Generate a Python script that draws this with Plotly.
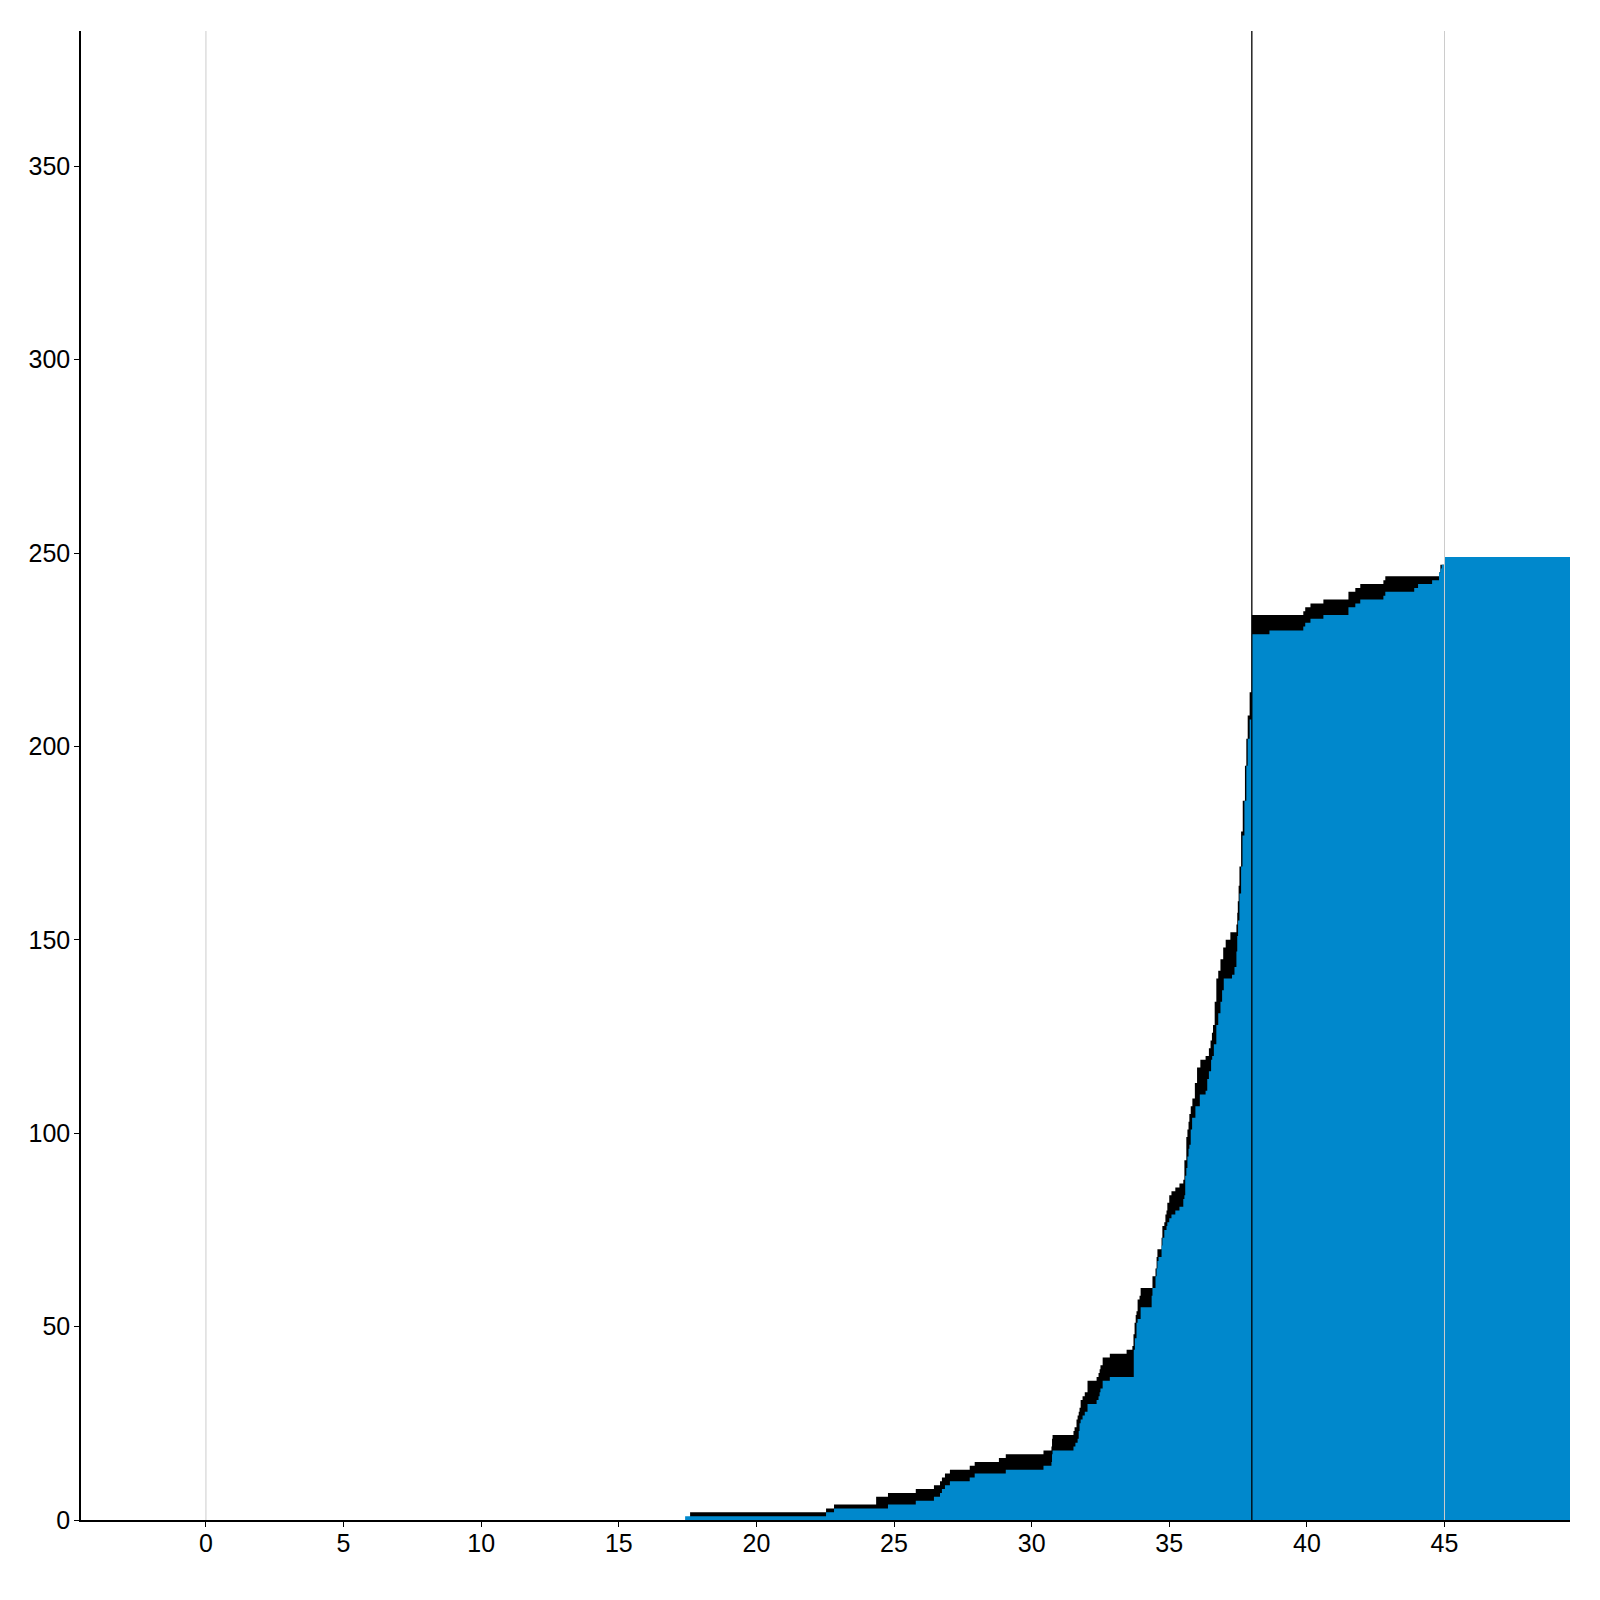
import plotly.graph_objects as go

# Lower (blue) step series: step start positions and values
blue_x = [17.41, 22.53, 22.82, 24.78, 25.79, 26.45, 26.67, 26.74, 26.85, 27.03,
          27.75, 27.93, 29.06, 30.43, 30.72, 30.74, 30.76, 31.52, 31.59, 31.67,
          31.71, 31.74, 31.78, 31.85, 31.93, 32.03, 32.36, 32.43, 32.47, 32.50,
          32.58, 32.84, 33.71, 33.75, 33.81, 33.85, 33.96, 34.36, 34.39, 34.50,
          34.54, 34.57, 34.61, 34.72, 34.75, 34.82, 34.90, 34.93, 35.00, 35.08,
          35.22, 35.37, 35.51, 35.55, 35.58, 35.62, 35.66, 35.70, 35.73, 35.78,
          35.83, 35.95, 36.11, 36.32, 36.38, 36.44, 36.52, 36.56, 36.62, 36.71,
          36.78, 36.86, 36.92, 36.98, 37.28, 37.37, 37.44, 37.47, 37.50, 37.55,
          37.61, 37.66, 37.73, 37.80, 37.85, 37.92, 38.00, 38.64, 39.87, 39.94,
          40.13, 40.60, 41.51, 41.76, 41.94, 42.78, 42.85, 43.90, 44.04, 44.55,
          44.80, 44.85, 44.90, 45.00, 49.56]
blue_y = [1, 2, 3, 4, 5, 6, 7, 8, 9, 10,
          11, 12, 13, 14, 15, 17, 18, 19, 20, 21,
          23, 25, 26, 27, 28, 30, 31, 32, 33, 34,
          36, 37, 44, 47, 51, 52, 55, 58, 60, 63,
          65, 67, 68, 71, 73, 75, 76, 77, 78, 79,
          80, 81, 83, 84, 89, 91, 94, 96, 97, 101,
          104, 107, 110, 111, 114, 116, 119, 120, 123, 128,
          131, 134, 137, 140, 141, 143, 147, 151, 155, 162,
          169, 177, 186, 195, 202, 207, 229, 230, 231, 232,
          233, 234, 236, 237, 238, 239, 240, 241, 242, 243,
          245, 246, 247, 249, 249]

# Upper (black) step series
black_x = [17.59, 22.53, 22.82, 24.35, 24.78, 25.79, 26.45, 26.67, 26.74, 26.85,
           27.03, 27.75, 27.93, 28.81, 29.06, 30.43, 30.72, 30.74, 30.76, 31.52,
           31.56, 31.63, 31.67, 31.71, 31.74, 31.78, 31.85, 31.93, 32.03, 32.36,
           32.43, 32.47, 32.50, 32.58, 32.84, 33.45, 33.66, 33.70, 33.74, 33.78,
           33.81, 33.85, 33.92, 33.96, 34.39, 34.50, 34.54, 34.57, 34.72, 34.75,
           34.82, 34.86, 34.90, 34.93, 35.00, 35.08, 35.22, 35.37, 35.51, 35.55,
           35.62, 35.66, 35.70, 35.73, 35.78, 35.84, 35.93, 36.01, 36.13, 36.32,
           36.44, 36.50, 36.55, 36.59, 36.65, 36.71, 36.78, 36.86, 36.96, 37.05,
           37.22, 37.44, 37.47, 37.49, 37.52, 37.55, 37.61, 37.67, 37.75, 37.80,
           37.85, 37.92, 38.00, 39.87, 39.94, 40.13, 40.60, 41.51, 41.76, 41.94,
           42.78, 42.85, 44.80, 44.85, 45.00]
black_y = [2, 3, 4, 6, 7, 8, 9, 10, 11, 12,
           13, 14, 15, 16, 17, 18, 19, 21, 22, 23,
           24, 26, 27, 28, 29, 31, 32, 33, 36, 37,
           38, 39, 40, 42, 43, 44, 45, 48, 51, 53,
           54, 57, 58, 60, 63, 65, 68, 70, 73, 76,
           77, 79, 80, 82, 84, 85, 86, 87, 88, 93,
           99, 101, 103, 105, 107, 109, 113, 117, 119, 120,
           122, 124, 126, 128, 134, 140, 142, 145, 148, 150,
           152, 154, 157, 160, 164, 169, 178, 186, 195, 202,
           208, 214, 234, 235, 236, 237, 238, 240, 241, 242,
           243, 244, 245, 247, 247]

# Reference vertical lines
vline_x = [0, 38, 45]
vline_color = ["#cccccc", "#000000", "#cccccc"]

x_range = [-4.54, 49.56]
y_range = [0, 385]

fig = go.Figure()
fig.add_trace(go.Scatter(x=black_x, y=black_y, mode="lines", line_shape="hv",
                         line=dict(width=0, color="#000000"), fill="tozeroy",
                         fillcolor="#000000", hoverinfo="skip", showlegend=False))
fig.add_trace(go.Scatter(x=blue_x, y=blue_y, mode="lines", line_shape="hv",
                         line=dict(width=0, color="#0088cc"), fill="tozeroy",
                         fillcolor="#0088cc", showlegend=False))

for vx, vc in zip(vline_x, vline_color):
    fig.add_shape(type="line", x0=vx, x1=vx, y0=0, y1=1, xref="x", yref="paper",
                  line=dict(color=vc, width=1.3 if vc == "#000000" else 1), layer="above")

fig.update_layout(
    width=1600, height=1600,
    margin=dict(l=73, r=38, t=23, b=88),
    paper_bgcolor="white", plot_bgcolor="white",
    font=dict(family="Arial, Liberation Sans, sans-serif", size=25, color="black"),
    showlegend=False,
)
fig.update_xaxes(range=x_range, showgrid=False, zeroline=False, showline=True,
                 linecolor="black", linewidth=1.5, ticks="outside", ticklen=5,
                 tickcolor="black", ticklabelstandoff=-5,
                 tickvals=[0, 5, 10, 15, 20, 25, 30, 35, 40, 45])
fig.update_yaxes(range=y_range, showgrid=False, zeroline=False, showline=True,
                 linecolor="black", linewidth=1.5, ticks="outside", ticklen=5,
                 tickcolor="black", ticklabelstandoff=-1,
                 tickvals=[0, 50, 100, 150, 200, 250, 300, 350])

fig.write_html("out.html")
